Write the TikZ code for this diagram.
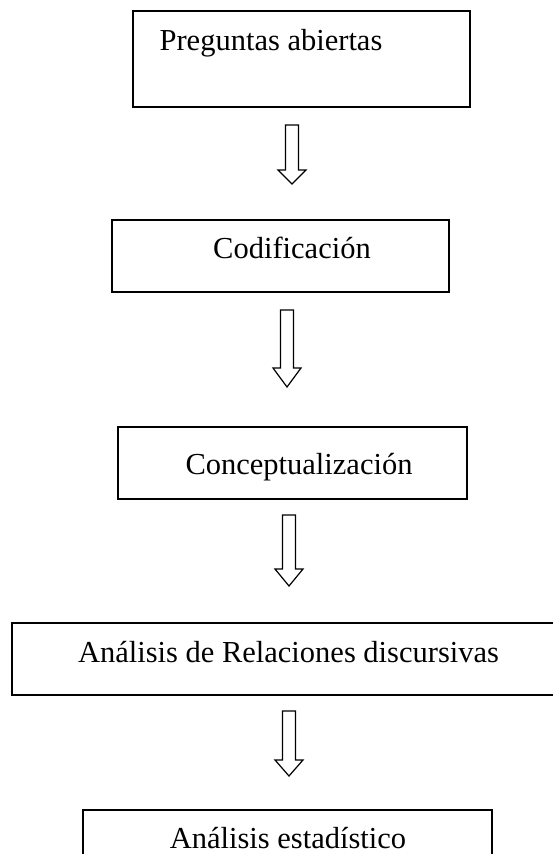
\documentclass[tikz,border=0pt]{standalone}
\usepackage{fontspec}
\setmainfont{Liberation Serif}
\usetikzlibrary{calc}
\tikzset{
  boxnode/.style={draw=black, line width=1.8pt, rectangle, inner sep=0pt},
  lbl/.style={inner sep=0pt, anchor=base, font=\fontsize{30.5}{36}\selectfont},
  barrow/.style={draw=black, line width=1.2pt, fill=white, line join=miter}
}
% block arrow: #1 start coordinate name (top centre), #2 shaft length, #3 head length
\newcommand\blockarrowdown[3]{%
  \draw[barrow] ($(#1)+(-6.5,0)$) -- ($(#1)+(6.5,0)$) -- ($(#1)+(6.5,#2)$) -- ($(#1)+(14,#2)$)
    -- ($(#1)+(0,#2+#3)$) -- ($(#1)+(-14,#2)$) -- ($(#1)+(-6.5,#2)$) -- cycle;}
\begin{document}
\begin{tikzpicture}[x=1pt,y=-1pt]
\clip (0,0) rectangle (553,854);
\fill[white] (0,0) rectangle (553,854);
% boxes
\node[boxnode, minimum width=337pt, minimum height=96pt] (b1) at (301.5,59) {};
\node[boxnode, minimum width=337pt, minimum height=72pt] (b2) at (280.5,256) {};
\node[boxnode, minimum width=349pt, minimum height=72pt] (b3) at (292.5,463) {};
\node[boxnode, minimum width=544pt, minimum height=72pt] (b4) at (284,659) {};
\node[boxnode, minimum width=409pt, minimum height=80pt] (b5) at (287.5,850) {};
% texts
\node[lbl] (t1) at (271,50) {Preguntas abiertas};
\node[lbl] (t2) at (292,258) {Codificación};
\node[lbl] (t3) at (299,474) {Conceptualización};
\node[lbl] (t4) at (288.5,662) {Análisis de Relaciones discursivas};
\node[lbl] (t5) at (288,848) {Análisis estadístico};
% arrows
\coordinate (a1) at (292,125);
\coordinate (a2) at (287,310);
\coordinate (a3) at (289,515);
\coordinate (a4) at (289,711);
\blockarrowdown{a1}{45}{14}
\blockarrowdown{a2}{58}{19}
\blockarrowdown{a3}{54}{17}
\blockarrowdown{a4}{49}{16}
\end{tikzpicture}
\end{document}
